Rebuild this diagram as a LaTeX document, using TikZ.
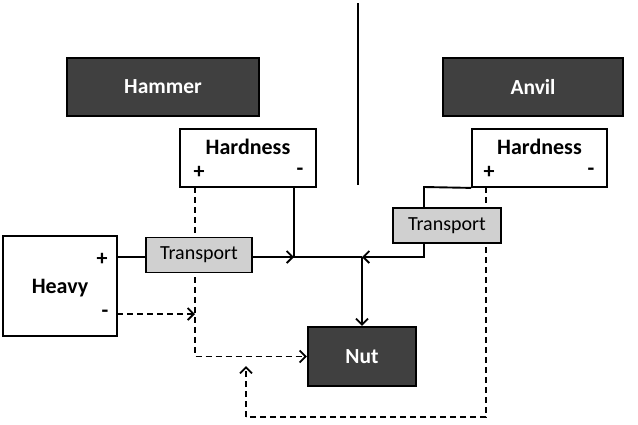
\documentclass[tikz,border=0pt]{standalone}
\usepackage{fontspec}
\setmainfont{Carlito}
\usetikzlibrary{arrows.meta,backgrounds}
\definecolor{boxdark}{HTML}{404040}
\definecolor{boxgray}{HTML}{D0D0D0}
\tikzset{
  box/.style={draw=black, line width=1.8pt, fill=white, inner sep=0pt, minimum width=#1},
  darkbox/.style={draw=black, line width=2.2pt, fill=boxdark, text=white, inner sep=0pt,
    font=\fontsize{21.5}{24}\selectfont\bfseries},
  transbox/.style={draw=black, line width=1.4pt, fill=boxgray, inner sep=0pt,
    minimum height=35pt, font=\fontsize{20}{22}\selectfont},
  lbl/.style={inner sep=0pt, font=\fontsize{22}{24}\selectfont\bfseries},
  conn/.style={line width=1.9pt},
  arr/.style={conn, -{Straight Barb[length=6pt,width=12pt,line width=1.8pt]}},
  dline/.style={conn, dash pattern=on 6pt off 4pt},
  darr/.style={dline, -{Straight Barb[length=6pt,width=12pt,line width=1.8pt]}}
}
\begin{document}
\begin{tikzpicture}[x=1pt,y=-1pt]
\useasboundingbox (0,0) rectangle (638,424);
% divider
\draw[line width=2.6pt] (358,3) coordinate (dtop) -- (358,185) coordinate (dbot);
% header boxes
\node[darkbox, minimum width=192pt, minimum height=58pt] (hammer) at (163,87) {Hammer};
\node[darkbox, minimum width=180pt, minimum height=58pt] (anvil) at (533,87) {Anvil};
% hardness boxes
\node[box=136pt, minimum height=58pt] (hardL) at (248,158) {};
\node[lbl] (hardLt) at (248,147) {Hardness};
\node[lbl] (hardLp) at (199,172) {+};
\node[lbl] (hardLm) at (300,172) {-};
\node[box=135pt, minimum height=58pt] (hardR) at (539.5,158) {};
\node[lbl] (hardRt) at (539.5,147) {Hardness};
\node[lbl] (hardRp) at (489,172) {+};
\node[lbl] (hardRm) at (591,172) {-};
% heavy
\node[box=114pt, minimum height=100pt] (heavy) at (60,286) {};
\node[lbl] (heavyt) at (60,288) {Heavy};
\node[lbl] (heavyp) at (102,259) {+};
\node[lbl] (heavym) at (105,314) {-};
% nut
\node[darkbox, minimum width=108pt, minimum height=59pt] (nut) at (362,356.5) {Nut};
% port coordinates
\coordinate (pHLp) at (195,187);
\coordinate (pHLm) at (294,187);
\coordinate (pHRp) at (486,187);
\coordinate (pHRc) at (424,187);
\coordinate (pHvp) at (117,257);
\coordinate (pHvm) at (117,314);
\coordinate (jL) at (294,257);
\coordinate (j) at (362,257);
\coordinate (bR) at (486,417);
\coordinate (bL) at (246,417);
\coordinate (tipB) at (246,366);
\coordinate (tipM) at (195,314);
% transport boxes
\node[transbox, minimum width=106pt] (transL) at (199,255) {Transport};
\node[transbox, minimum width=108pt] (transR) at (447,225.5) {Transport};
\begin{scope}[on background layer]
  % solid connectors
  \draw[conn] (pHvp) -- (transL.west |- pHvp);
  \draw[arr] (transL.east |- pHvp) -- (jL);
  \draw[conn] (pHLm) -- (jL) -- (j);
  \draw[arr] (j) -- (nut.north);
  \draw[conn] (hardR.south west) -- (pHRc) -- (pHRc |- transR.north);
  \draw[arr] (pHRc |- transR.south) |- (j);
  % dashed connectors
  \draw[darr] (pHLp) |- (nut.west);
  \draw[darr] (pHvm) -- (tipM);
  \draw[dline] (pHRp) -- (bR) -- (bL);
  \draw[darr] (bL) -- (tipB);
\end{scope}
\end{tikzpicture}
\end{document}
